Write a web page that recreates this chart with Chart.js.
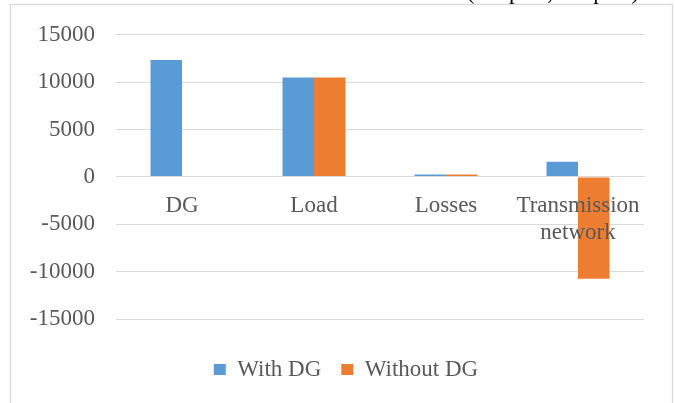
<!DOCTYPE html>
<html>
<head>
<meta charset="utf-8">
<script src="https://cdn.jsdelivr.net/npm/chart.js@4/dist/chart.umd.min.js"></script>
<style>
  html, body { margin: 0; padding: 0; background: #ffffff; }
  #wrap { width: 675px; height: 403px; position: relative; }
</style>
</head>
<body>
<div id="wrap"><canvas id="c" width="675" height="403"></canvas></div>
<script>
// Power balance by component, with and without distributed generation
const categories = ['DG', 'Load', 'Losses', ['Transmission', 'network']];
const withDG = [12350, 10500, 250, 1600];
const withoutDG = [0, 10500, 250, -10750];
const yTicks = [-15000, -10000, -5000, 0, 5000, 10000, 15000];
const headerText = '(Outputs, Outputs)';

const FONT = '"Liberation Serif", "Times New Roman", serif';
const TEXT = '#595959';
const GRID = '#d9d9d9';

Chart.defaults.font.family = FONT;

// outer frame, header line running off the top edge, and legend centring
const framePlugin = {
  id: 'frame',
  afterLayout(chart) {
    // centre the legend on the frame rather than on the full canvas
    if (chart.legend) chart.legend.left = 48;
  },
  beforeDraw(chart) {
    const ctx = chart.ctx;
    ctx.save();
    ctx.fillStyle = '#ffffff';
    ctx.fillRect(0, 0, chart.width, chart.height);
    ctx.strokeStyle = GRID;
    ctx.lineWidth = 1.3;
    ctx.strokeRect(10.5, 4.5, 662, 500);
    ctx.restore();
  },
  afterDraw(chart) {
    const ctx = chart.ctx;
    ctx.save();
    ctx.font = '23px ' + FONT;
    ctx.fillStyle = '#000000';
    ctx.textAlign = 'center';
    ctx.textBaseline = 'alphabetic';
    ctx.fillText(headerText, 553, -1);
    ctx.restore();
  }
};

new Chart(document.getElementById('c'), {
  type: 'bar',
  data: {
    labels: categories,
    datasets: [
      { label: 'With DG', data: withDG, backgroundColor: '#5b9bd5', borderWidth: 0 },
      { label: 'Without DG', data: withoutDG, backgroundColor: '#ed7d31', borderWidth: 0 }
    ]
  },
  options: {
    responsive: false,
    animation: false,
    devicePixelRatio: 1,
    layout: { padding: { left: 28, right: 31, top: 34, bottom: 12 } },
    datasets: { bar: { categoryPercentage: 0.477, barPercentage: 1 } },
    scales: {
      x: {
        position: { y: 0 },
        grid: { display: false, drawTicks: false },
        border: { display: true, color: GRID, width: 1, z: 1 },
        ticks: {
          z: 1,
          color: TEXT,
          font: { family: FONT, size: 23 },
          padding: 15,
          maxRotation: 0,
          autoSkip: false
        }
      },
      y: {
        min: -15000,
        max: 15000,
        afterFit(scale) { scale.width = 88; },
        afterBuildTicks(scale) { scale.ticks = yTicks.map(v => ({ value: v })); },
        grid: { color: GRID, lineWidth: 1, drawTicks: false },
        border: { display: false },
        ticks: {
          color: TEXT,
          font: { family: FONT, size: 23 },
          padding: 21,
          callback: v => String(v)
        }
      }
    },
    plugins: {
      legend: {
        position: 'bottom',
        title: { display: true, text: '', font: { size: 10, lineHeight: 1 }, padding: { top: 9, bottom: 0 } },
        labels: {
          color: TEXT,
          font: { family: FONT, size: 23 },
          boxWidth: 12,
          boxHeight: 11,
          padding: 20
        }
      },
      tooltip: { enabled: false }
    }
  },
  plugins: [framePlugin]
});
</script>
</body>
</html>
